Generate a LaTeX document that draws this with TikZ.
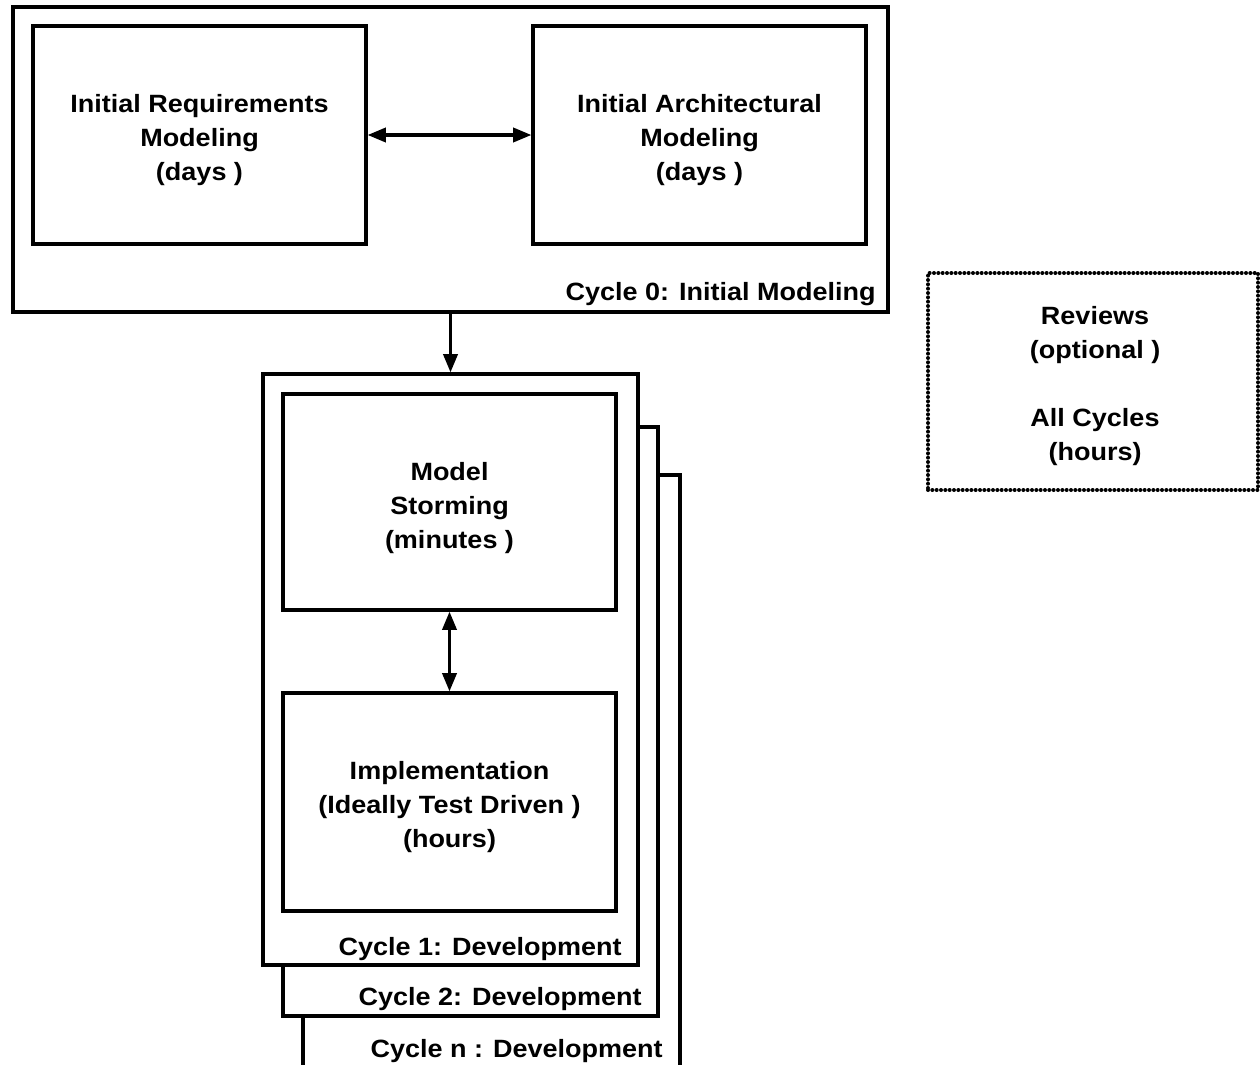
\documentclass[tikz,border=0pt]{standalone}
\usepackage{fontspec}
\setmainfont{Liberation Sans}[FakeStretch=1.08]
\usetikzlibrary{arrows.meta}
\begin{document}
\begin{tikzpicture}[x=0.6pt,y=-0.6pt,
  box/.style={draw, line width=1.9pt, fill=white, inner sep=0pt},
  txt/.style={align=center, inner sep=0pt, font=\fontsize{15}{20.5}\selectfont\bfseries},
  lbl/.style={inner sep=0pt, font=\fontsize{15}{20.5}\selectfont\bfseries},
  arr/.style={line width=2pt, -{Triangle[length=11pt,width=8.5pt]}},
  darr/.style={line width=2pt, {Triangle[length=11pt,width=8.5pt]}-{Triangle[length=11pt,width=8.5pt]}},
  dotbox/.style={box, line width=2.4pt, dash pattern=on 0pt off 2.6pt, line cap=round}]
\useasboundingbox[fill=white] (0,0) rectangle (1260,1064);
% Cycle 0
\node[box, minimum width=525pt, minimum height=183pt] (c0) at (450.5,159.5) {};
\node[box, minimum width=199.8pt, minimum height=130.8pt] (req) at (199.5,135) {};
\node[txt] (reqt) at (199.5,140) {Initial Requirements\\Modeling\\(days )};
\node[box, minimum width=199.8pt, minimum height=130.8pt] (arch) at (699.5,135) {};
\node[txt] (archt) at (699.5,140) {Initial Architectural\\Modeling\\(days )};
\node[lbl, anchor=base east] (l0) at (876,300) {Cycle 0: Initial Modeling};
\draw[darr] (req.east) -- (arch.west);
% development cycles (stacked)
\node[box, minimum width=226.2pt, minimum height=363pt] (cn) at (491.5,777.5) {};
\node[lbl, anchor=base east] (ln) at (663,1057) {Cycle n : Development};
\node[box, minimum width=225pt, minimum height=353.4pt] (c2) at (470.5,721.5) {};
\node[lbl, anchor=base east] (l2) at (642,1005) {Cycle 2: Development};
\node[box, minimum width=225pt, minimum height=354.6pt] (c1) at (450.5,669.5) {};
\node[lbl, anchor=base east] (l1) at (622,955) {Cycle 1: Development};
\node[box, minimum width=199.8pt, minimum height=129.6pt] (ms) at (449.5,502) {};
\node[txt] (mst) at (449.5,508) {Model\\Storming\\(minutes )};
\node[box, minimum width=199.8pt, minimum height=130.8pt] (impl) at (449.5,802) {};
\node[txt] (implt) at (449.5,807) {Implementation\\(Ideally Test Driven )\\(hours)};
\draw[darr] (ms.south) -- (impl.north);
\draw[arr] (c0.south) -- (c1.north);
% Reviews
\node[dotbox, minimum width=198pt, minimum height=130.2pt] (rev) at (1093,381.5) {};
\node[txt] (revt) at (1095,386) {Reviews\\(optional )\\[20.5pt]All Cycles\\(hours)};
\end{tikzpicture}
\end{document}
